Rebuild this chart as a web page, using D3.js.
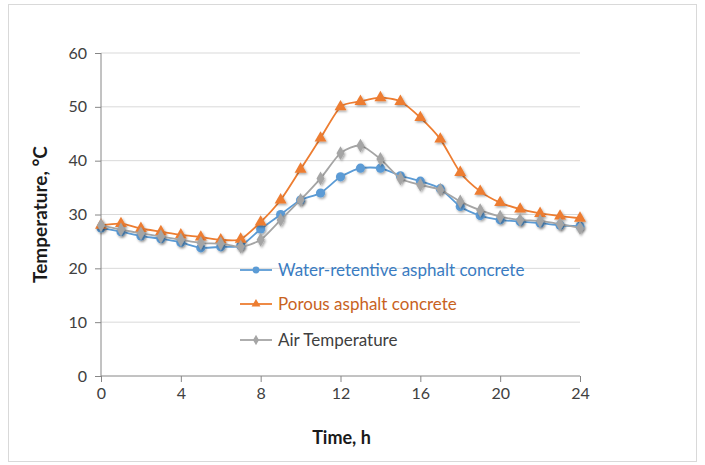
<!DOCTYPE html>
<html><head><meta charset="utf-8">
<script src="https://cdn.jsdelivr.net/npm/d3@7/dist/d3.min.js"></script>
<style>body{margin:0;background:#fff;}svg{display:block;font-family:Lato,"Open Sans",sans-serif;}</style>
</head><body>
<svg id="c" width="705" height="465"></svg>
<script>
const hours = d3.range(0, 25);
const xTicks = [0, 4, 8, 12, 16, 20, 24];
const yTicks = [0, 10, 20, 30, 40, 50, 60];
const seriesNames = ["Water-retentive asphalt concrete", "Porous asphalt concrete", "Air Temperature"];
const waterRetentive = [27.5,26.8,26.0,25.5,24.8,23.8,24.0,24.2,27.3,30.0,32.7,34.0,37.0,38.6,38.6,37.2,36.2,34.8,31.5,29.8,29.0,28.7,28.4,28.0,27.8];
const porous = [28.0,28.3,27.4,26.8,26.2,25.8,25.3,25.4,28.6,32.7,38.4,44.2,50.0,51.0,51.7,51.0,48.0,44.0,37.8,34.3,32.2,31.0,30.2,29.7,29.3];
const air = [28.0,27.2,26.5,25.9,25.3,24.7,24.6,24.0,25.3,29.0,32.7,36.7,41.4,42.8,40.3,36.7,35.5,34.6,32.4,30.8,29.6,29.0,28.8,28.2,27.5];

const colors = ["#5B9BD5", "#ED7D31", "#A5A5A5"];
const textColors = ["#3A7CC2", "#C8621E", "#404040"];
const symbols = [d3.symbolCircle, d3.symbolTriangle, d3.symbolDiamond];
const symSizes = [66, 62, 56];

const svg = d3.select("#c");
svg.append("rect").attr("x", 8.5).attr("y", 4.5).attr("width", 688).attr("height", 457)
  .attr("fill", "#fff").attr("stroke", "#D9D9D9");

const m = {l: 101, r: 580, t: 53, b: 376};
const x = d3.scaleLinear().domain([0, 24]).range([m.l, m.r]);
const y = d3.scaleLinear().domain([0, 60]).range([m.b, m.t]);

const defs = svg.append("defs");
const f = defs.append("filter").attr("id", "sh").attr("x", "-50%").attr("y", "-50%").attr("width", "200%").attr("height", "200%");
f.append("feDropShadow").attr("dx", 1.2).attr("dy", 1.5).attr("stdDeviation", 1.2).attr("flood-color", "#000").attr("flood-opacity", 0.35);

svg.append("g").selectAll("line").data(yTicks.filter(d => d > 0)).join("line")
  .attr("x1", m.l).attr("x2", m.r).attr("y1", d => y(d)).attr("y2", d => y(d))
  .attr("stroke", "#D9D9D9").attr("stroke-width", 1);

const yAxis = svg.append("g").attr("transform", `translate(${m.l},0)`)
  .call(d3.axisLeft(y).tickValues(yTicks).tickSize(6).tickPadding(8));
const xAxis = svg.append("g").attr("transform", `translate(0,${m.b})`)
  .call(d3.axisBottom(x).tickValues(xTicks).tickSize(6).tickPadding(6));
[yAxis, xAxis].forEach(a => {
  a.select(".domain").attr("stroke", "#868686");
  a.selectAll(".tick line").attr("stroke", "#868686");
  a.selectAll(".tick text").attr("fill", "#404040").style("font-size", "16px").style("font-family", "Lato, sans-serif");
});
xAxis.select(".domain").attr("d", `M${m.l},0H${m.r}`);
yAxis.select(".domain").attr("d", `M0,${m.t}V${m.b}`);

svg.append("text").attr("x", (m.l + m.r) / 2 + 1).attr("y", 444).attr("text-anchor", "middle")
  .attr("font-weight", "bold").attr("font-size", 18).attr("fill", "#1a1a1a").text("Time, h");
svg.append("text").attr("transform", `translate(47,${(m.t + m.b) / 2}) rotate(-90)`).attr("text-anchor", "middle")
  .attr("font-weight", "bold").attr("font-size", 19).attr("fill", "#1a1a1a").text("Temperature, °C");

const allSeries = [waterRetentive, porous, air];
const line = d3.line().x((d, i) => x(hours[i])).y(d => y(d)).curve(d3.curveCardinal.tension(0.3));
allSeries.forEach((vals, k) => {
  const g = svg.append("g");
  g.append("path").datum(vals).attr("d", line).attr("fill", "none").attr("stroke", colors[k]).attr("stroke-width", 1.8);
  g.selectAll("path.pt").data(vals).join("path").attr("class", "pt")
    .attr("transform", (d, i) => `translate(${x(hours[i])},${y(d)})`)
    .attr("d", d3.symbol().type(symbols[k]).size(symSizes[k]))
    .attr("fill", colors[k]).attr("filter", "url(#sh)");
});

const legY = [270, 304, 340];
seriesNames.forEach((name, k) => {
  const g = svg.append("g").attr("transform", `translate(240,${legY[k]})`);
  g.append("line").attr("x1", 0).attr("x2", 32).attr("stroke", colors[k]).attr("stroke-width", 1.8);
  g.append("path").attr("transform", "translate(16,0)").attr("d", d3.symbol().type(symbols[k]).size(symSizes[k] * 0.55)).attr("fill", colors[k]);
  g.append("text").attr("x", 38).attr("y", 6).attr("font-size", 17).attr("fill", textColors[k]).text(name);
});
</script>
</body></html>
